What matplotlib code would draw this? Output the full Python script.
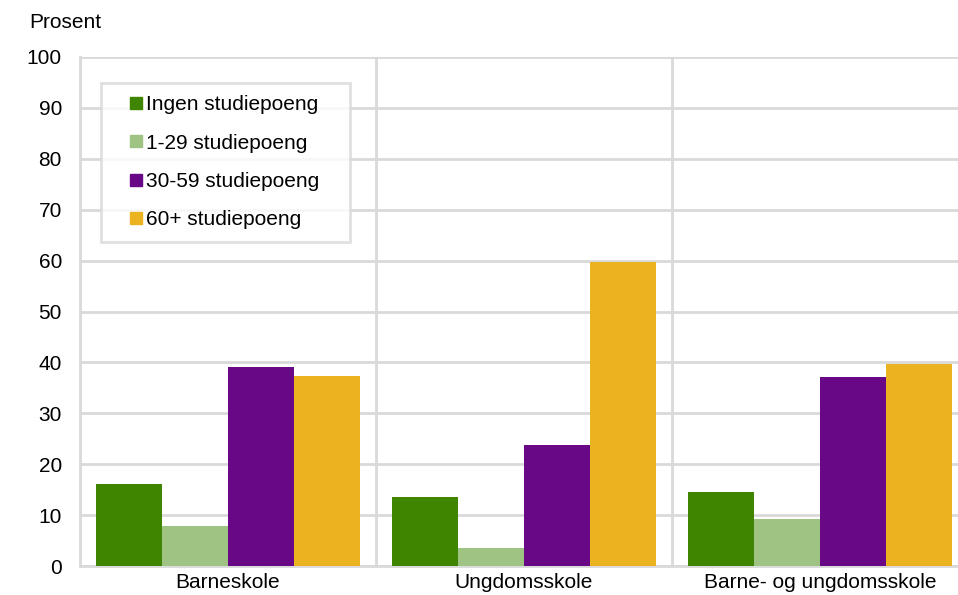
import matplotlib
matplotlib.use("Agg")
import numpy as np
import matplotlib.pyplot as plt
from matplotlib.lines import Line2D

plt.rcParams['font.family'] = ['Liberation Sans', 'DejaVu Sans']

categories = ['Barneskole', 'Ungdomsskole', 'Barne- og ungdomsskole']
series_names = ['Ingen studiepoeng', '1-29 studiepoeng', '30-59 studiepoeng', '60+ studiepoeng']
ingen = [16.2, 13.5, 14.5]
sp_1_29 = [7.9, 3.6, 9.3]
sp_30_59 = [39.0, 23.7, 37.2]
sp_60 = [37.4, 59.7, 39.7]
colors = ['#3f8500', '#9fc382', '#690886', '#ebb320']

series = [ingen, sp_1_29, sp_30_59, sp_60]
grid_col = '#d9d9d9'
fs = 15

fig = plt.figure(figsize=(9.58, 5.95), dpi=100)
ax = fig.add_axes([80/958, 1-566/595, 888/958, 509/595])

x = np.arange(len(categories))
w = 0.223
for i, vals in enumerate(series):
    ax.bar(x + (i - 1.5) * w, vals, width=w, color=colors[i], zorder=3)

ax.set_xlim(-0.5, 2.5)
ax.set_ylim(0, 100)
ax.set_yticks(range(0, 101, 10))
ax.set_xticks(x)
ax.set_xticklabels(categories, fontsize=fs)
ax.set_xticks([0.5, 1.5, 2.5], minor=True)
ax.tick_params(axis='both', which='both', length=0)
ax.tick_params(axis='y', labelsize=fs, pad=13)
ax.tick_params(axis='x', pad=5)
ax.grid(axis='y', color=grid_col, linewidth=2, zorder=0)
ax.grid(axis='x', which='minor', color=grid_col, linewidth=2, zorder=0)
for s in ['top', 'right']:
    ax.spines[s].set_visible(False)
for s in ['left', 'bottom']:
    ax.spines[s].set_color(grid_col)
    ax.spines[s].set_linewidth(2)

# square markers, pushed right inside the box
handles = [Line2D([], [], linestyle='none', marker='s', markersize=8.6,
                  markerfacecolor=c, markeredgecolor=c, label=n)
           for c, n in zip(colors, series_names)]
leg_top = (566 - 83) / 509
leg_h = (238 - 83) / 509
leg = ax.legend(handles=handles, loc='upper left',
                bbox_to_anchor=(21/888, leg_top - leg_h, 249/888, leg_h),
                mode='expand', borderaxespad=0, fontsize=fs, frameon=True,
                fancybox=False, handlelength=2.13, handletextpad=-0.59,
                labelspacing=0.92, borderpad=0.6)
leg.get_frame().set_edgecolor(grid_col)
leg.get_frame().set_linewidth(2)
leg.set_zorder(5)

fig.text(29/958, 1-28/595, 'Prosent', fontsize=fs, va='baseline', ha='left')

fig.savefig('out.png', dpi=100)
